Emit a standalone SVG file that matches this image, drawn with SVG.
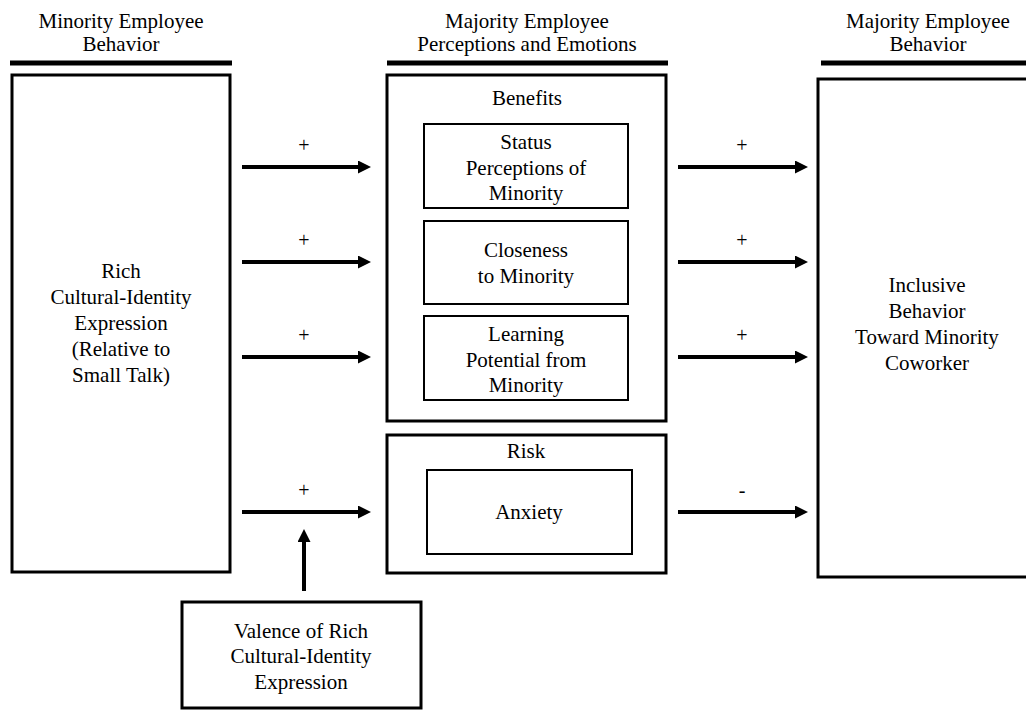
<svg xmlns="http://www.w3.org/2000/svg" width="1026" height="711" viewBox="0 0 1026 711">
<style>
text{font-family:"Liberation Serif","DejaVu Serif","Times New Roman",serif;font-size:21px;fill:#000;text-anchor:middle}
.sign{font-size:20px}
.outer{fill:#fff;stroke:#000;stroke-width:3}
.inner{fill:#fff;stroke:#000;stroke-width:2}
.bar{stroke:#000;stroke-width:5}
.arr{stroke:#000;stroke-width:4;fill:none}
</style>
<defs>
<marker id="ah" markerUnits="userSpaceOnUse" markerWidth="13" markerHeight="13" refX="4" refY="6.5" orient="auto" viewBox="0 0 13 13">
<path d="M0,0 L13,6.5 L0,13 z" fill="#000"/>
</marker>
</defs>

<g id="headers">
<line class="bar" x1="10" y1="63" x2="232" y2="63"/>
<text x="121" y="28">Minority Employee</text>
<text x="121" y="51">Behavior</text>
<line class="bar" x1="387" y1="63" x2="668" y2="63"/>
<text x="527" y="28">Majority Employee</text>
<text x="527" y="51">Perceptions and Emotions</text>
<line class="bar" x1="821" y1="63" x2="1030" y2="63"/>
<text x="928" y="28">Majority Employee</text>
<text x="928" y="51">Behavior</text>
</g>

<g id="rich">
<rect class="outer" x="12" y="75" width="218" height="497"/>
<text x="121" y="278">Rich</text>
<text x="121" y="304">Cultural-Identity</text>
<text x="121" y="330">Expression</text>
<text x="121" y="356">(Relative to</text>
<text x="121" y="382">Small Talk)</text>
</g>

<g id="benefits">
<rect class="outer" x="387" y="75" width="279" height="346"/>
<text x="527" y="105">Benefits</text>
</g>
<g id="status">
<rect class="inner" x="424" y="124" width="204" height="84"/>
<text x="526" y="149">Status</text>
<text x="526" y="175">Perceptions of</text>
<text x="526" y="200">Minority</text>
</g>
<g id="closeness">
<rect class="inner" x="424" y="221" width="204" height="83"/>
<text x="526" y="257">Closeness</text>
<text x="526" y="283">to Minority</text>
</g>
<g id="learning">
<rect class="inner" x="424" y="316" width="204" height="84"/>
<text x="526" y="341">Learning</text>
<text x="526" y="367">Potential from</text>
<text x="526" y="392">Minority</text>
</g>

<g id="risk">
<rect class="outer" x="387" y="435" width="279" height="138"/>
<text x="526" y="458">Risk</text>
</g>
<g id="anxiety">
<rect class="inner" x="427" y="470" width="205" height="84"/>
<text x="529" y="519">Anxiety</text>
</g>

<g id="inclusive">
<rect class="outer" x="818" y="79" width="230" height="498"/>
<text x="927" y="292">Inclusive</text>
<text x="927" y="318">Behavior</text>
<text x="927" y="344">Toward Minority</text>
<text x="927" y="370">Coworker</text>
</g>

<g id="valence">
<rect class="outer" x="182" y="602" width="239" height="106"/>
<text x="301" y="638">Valence of Rich</text>
<text x="301" y="663">Cultural-Identity</text>
<text x="301" y="689">Expression</text>
</g>

<g id="connectors">
<line class="arr" x1="242" y1="167" x2="362" y2="167" marker-end="url(#ah)"/>
<line class="arr" x1="242" y1="262" x2="362" y2="262" marker-end="url(#ah)"/>
<line class="arr" x1="242" y1="357" x2="362" y2="357" marker-end="url(#ah)"/>
<line class="arr" x1="242" y1="512" x2="362" y2="512" marker-end="url(#ah)"/>
<line class="arr" x1="678" y1="167" x2="799" y2="167" marker-end="url(#ah)"/>
<line class="arr" x1="678" y1="262" x2="799" y2="262" marker-end="url(#ah)"/>
<line class="arr" x1="678" y1="357" x2="799" y2="357" marker-end="url(#ah)"/>
<line class="arr" x1="678" y1="512" x2="799" y2="512" marker-end="url(#ah)"/>
<line class="arr" x1="304" y1="591" x2="304" y2="538" marker-end="url(#ah)"/>
<text class="sign" x="304" y="152">+</text>
<text class="sign" x="304" y="247">+</text>
<text class="sign" x="304" y="342">+</text>
<text class="sign" x="304" y="497">+</text>
<text class="sign" x="742" y="152">+</text>
<text class="sign" x="742" y="247">+</text>
<text class="sign" x="742" y="342">+</text>
<text class="sign" x="742" y="497">-</text>
</g>
</svg>
